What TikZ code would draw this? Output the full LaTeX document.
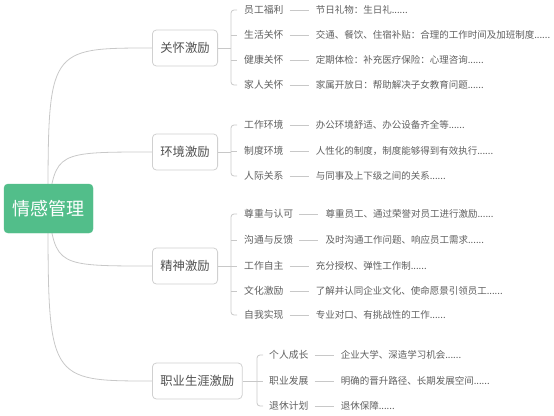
\documentclass[tikz,border=0pt]{standalone}
\usepackage{fontspec}
\setmainfont{Noto Sans CJK SC}
\usetikzlibrary{backgrounds}
\definecolor{rootgreen}{RGB}{82,190,138}
\definecolor{linegray}{RGB}{200,200,200}
\definecolor{boxgray}{RGB}{208,208,208}
\definecolor{txtdark}{RGB}{80,80,80}
\definecolor{txtleaf}{RGB}{95,95,95}
\tikzset{
  rootbox/.style={draw=rootgreen, fill=rootgreen, rounded corners=4pt, text=white, font=\fontsize{18}{20}\selectfont, minimum width=89pt, minimum height=49pt, inner sep=0pt},
  branchbox/.style={draw=boxgray, line width=0.8pt, fill=white, rounded corners=4pt, text=txtdark, font=\fontsize{12.3}{14}\selectfont, minimum height=36pt, inner xsep=8pt, inner ysep=0pt, anchor=west},
  leaf/.style={text=txtleaf, font=\fontsize{9.8}{11}\selectfont, inner sep=0pt, anchor=west},
  detail/.style={text=txtleaf, font=\fontsize{9.5}{11}\selectfont, inner sep=0pt, anchor=west},
  conn/.style={draw=linegray, line width=0.8pt},
  dashln/.style={conn, shorten <=6pt, shorten >=7pt},
  brk/.style={conn, rounded corners=3pt},
}
\newcommand{\leafrow}[5]{% name, x, y, label, detail
  \node[leaf] (#1) at (#2,#3) {#4};
  \node[detail] (#1d) at ([xshift=32pt]#1.east) {#5};
  \draw[dashln] (#1.east) -- (#1d.west);
}
\begin{document}
\begin{tikzpicture}[x=1pt,y=-1pt]
\useasboundingbox (0,0) rectangle (554,415);
% root
\node[rootbox] (root) at (48.5,208.5) {情感管理};
\coordinate (rc) at (48,208);
% branches
\node[branchbox] (k1) at (152,48) {关怀激励};
\node[branchbox] (k2) at (152,152) {环境激励};
\node[branchbox] (k3) at (152,266) {精神激励};
\node[branchbox] (k4) at (152,381) {职业生涯激励};
\begin{scope}[on background layer]
  \draw[conn] (rc) .. controls (rc |- k1.west) .. (k1.west);
  \draw[conn] (rc) .. controls ([xshift=8pt]rc |- k2.west) .. (k2.west);
  \draw[conn] (rc) .. controls ([xshift=8pt]rc |- k3.west) .. (k3.west);
  \draw[conn] (rc) .. controls (rc |- k4.west) .. (k4.west);
\end{scope}
% group 1
\coordinate (b1) at (231,48);
\leafrow{a1}{244}{10}{员工福利}{节日礼物：生日礼......}
\leafrow{a2}{244}{35}{生活关怀}{交通、餐饮、住宿补贴：合理的工作时间及加班制度......}
\leafrow{a3}{244}{60}{健康关怀}{定期体检：补充医疗保险：心理咨询......}
\leafrow{a4}{244}{85}{家人关怀}{家属开放日：帮助解决子女教育问题......}
\draw[conn] (k1.east) -- (b1);
\draw[brk] ([xshift=-7pt]a1.west) -| (b1) |- ([xshift=-7pt]a4.west);
\draw[conn] (a2.west -| b1) -- ([xshift=-7pt]a2.west);
\draw[conn] (a3.west -| b1) -- ([xshift=-7pt]a3.west);
% group 2
\coordinate (b2) at (231,152);
\leafrow{e1}{244}{125}{工作环境}{办公环境舒适、办公设备齐全等......}
\leafrow{e2}{244}{151}{制度环境}{人性化的制度，制度能够得到有效执行......}
\leafrow{e3}{244}{176}{人际关系}{与同事及上下级之间的关系......}
\draw[conn] (k2.east) -- (b2);
\draw[brk] ([xshift=-7pt]e1.west) -| (b2) |- ([xshift=-7pt]e3.west);
\draw[conn] (e2.west -| b2) -- ([xshift=-7pt]e2.west);
% group 3
\coordinate (b3) at (231,266);
\leafrow{s1}{244}{214}{尊重与认可}{尊重员工、通过荣誉对员工进行激励......}
\leafrow{s2}{244}{240}{沟通与反馈}{及时沟通工作问题、响应员工需求......}
\leafrow{s3}{244}{266}{工作自主}{充分授权、弹性工作制......}
\leafrow{s4}{244}{291}{文化激励}{了解并认同企业文化、使命愿景引领员工......}
\leafrow{s5}{244}{315}{自我实现}{专业对口、有挑战性的工作......}
\draw[conn] (k3.east) -- (b3);
\draw[brk] ([xshift=-7pt]s1.west) -| (b3) |- ([xshift=-7pt]s5.west);
\draw[conn] (s2.west -| b3) -- ([xshift=-7pt]s2.west);
\draw[conn] (s3.west -| b3) -- ([xshift=-7pt]s3.west);
\draw[conn] (s4.west -| b3) -- ([xshift=-7pt]s4.west);
% group 4
\coordinate (b4) at (257,381);
\leafrow{c1}{269}{355}{个人成长}{企业大学、深造学习机会......}
\leafrow{c2}{269}{381}{职业发展}{明确的晋升路径、长期发展空间......}
\leafrow{c3}{269}{406}{退休计划}{退休保障......}
\draw[conn] (k4.east) -- (b4);
\draw[brk] ([xshift=-6pt]c1.west) -| (b4) |- ([xshift=-6pt]c3.west);
\draw[conn] (c2.west -| b4) -- ([xshift=-6pt]c2.west);
\end{tikzpicture}
\end{document}
